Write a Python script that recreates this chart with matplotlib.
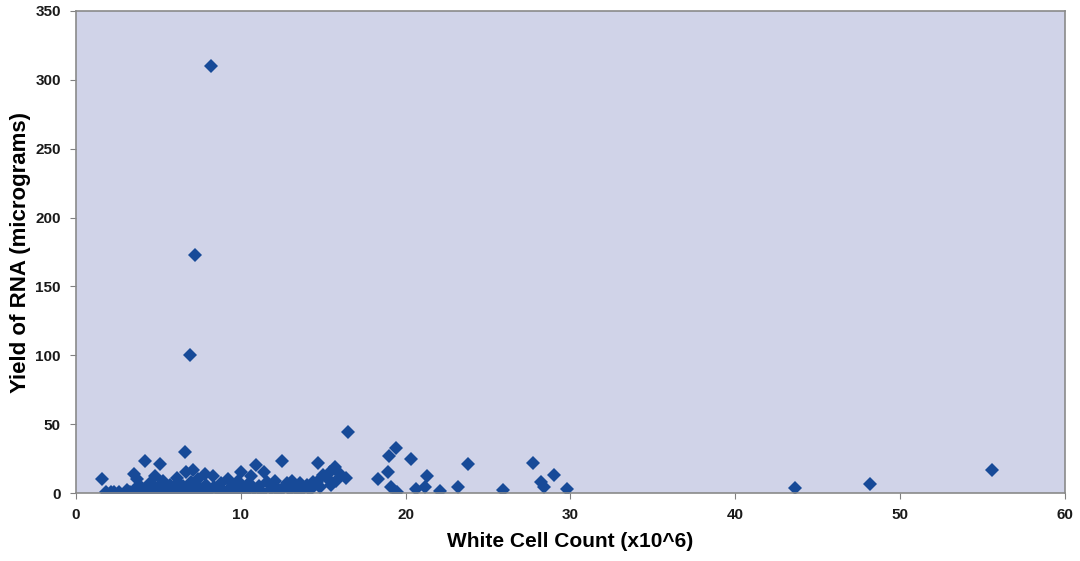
import matplotlib.pyplot as plt

# White cell count (x10^6) and RNA yield (micrograms)
white_cells = [1.6, 1.8, 2.1, 2.3, 2.6, 3.1, 3.3, 3.5, 3.6, 3.7, 3.9, 4.0, 4.2, 4.3,
               4.5, 4.6, 4.8, 5.0, 5.1, 5.2, 5.3, 5.5, 5.7, 5.8, 6.0, 6.1, 6.2, 6.3,
               6.5, 6.6, 6.7, 6.8, 6.9, 7.0, 7.1, 7.2, 7.2, 7.3, 7.4, 7.6, 7.8, 7.9,
               8.0, 8.2, 8.3, 8.4, 8.6, 8.8, 9.0, 9.2, 9.3, 9.5, 9.7, 9.8, 10.0, 10.1,
               10.3, 10.5, 10.6, 10.8, 10.9, 11.1, 11.3, 11.4, 11.6, 11.8, 12.0, 12.1,
               12.3, 12.5, 12.6, 12.8, 13.0, 13.1, 13.3, 13.5, 13.6, 13.8, 14.0, 14.2,
               14.4, 14.6, 14.7, 14.8, 15.0, 15.2, 15.4, 15.5, 15.7, 15.8, 16.0, 16.4,
               16.5, 18.3, 18.9, 19.0, 19.1, 19.4, 19.5, 20.3, 20.6, 21.2, 21.3, 22.1,
               23.2, 23.8, 25.9, 27.7, 28.2, 28.4, 29.0, 29.8, 43.6, 48.2, 55.6]
rna_yield = [10, 0.5, 0.5, 1, 0.5, 2, 0.5, 14, 3, 10, 5, 1, 23, 3,
             7, 1, 12, 4, 21, 1, 9, 2, 6, 1, 3, 11, 7, 1,
             5, 30, 15, 2, 100, 8, 17, 173, 4, 1, 10, 3, 14, 6,
             1, 310, 12, 4, 2, 7, 1, 10, 3, 6, 1, 9, 15, 4,
             1, 7, 12, 3, 20, 5, 1, 15, 8, 3, 6, 9,
             1, 23, 4, 7, 2, 9, 5, 1, 7, 3, 6, 2,
             8, 8, 22, 4, 13, 11, 15, 6, 19, 9, 14, 11,
             44, 10, 15, 27, 4, 33, 1, 25, 3, 4, 12, 1.5,
             4, 21, 2, 22, 8, 4, 13, 3, 3.6, 6.5, 16.7]

fig = plt.figure(figsize=(10.8, 5.61), dpi=100)
ax = fig.add_axes([0.0704, 0.1212, 0.9156, 0.8592])
ax.set_facecolor('#d0d3e8')

ax.plot(white_cells, rna_yield, linestyle='none', marker='D', markersize=6.8,
        color='#174a98', markeredgewidth=0)

ax.set_xlim(0, 60)
ax.set_ylim(0, 350)
ax.set_xticks(range(0, 61, 10))
ax.set_yticks(range(0, 351, 50))

font = 'Liberation Sans'
for lab in ax.get_xticklabels() + ax.get_yticklabels():
    lab.set_fontfamily(font)
    lab.set_fontweight('bold')
    lab.set_fontsize(11)
    lab.set_color('#1a1a1a')
ax.tick_params(direction='out', length=4, color='#808080', pad=7)

for side in ax.spines.values():
    side.set_color('#8a8a8a')
    side.set_linewidth(1.2)

ax.set_xlabel('White Cell Count (x10^6)', fontfamily=font, fontweight='bold',
              fontsize=15, labelpad=7)
ax.set_ylabel('Yield of RNA (micrograms)', fontfamily=font, fontweight='bold',
              fontsize=16, labelpad=3)

fig.savefig('out.png', dpi=100)
